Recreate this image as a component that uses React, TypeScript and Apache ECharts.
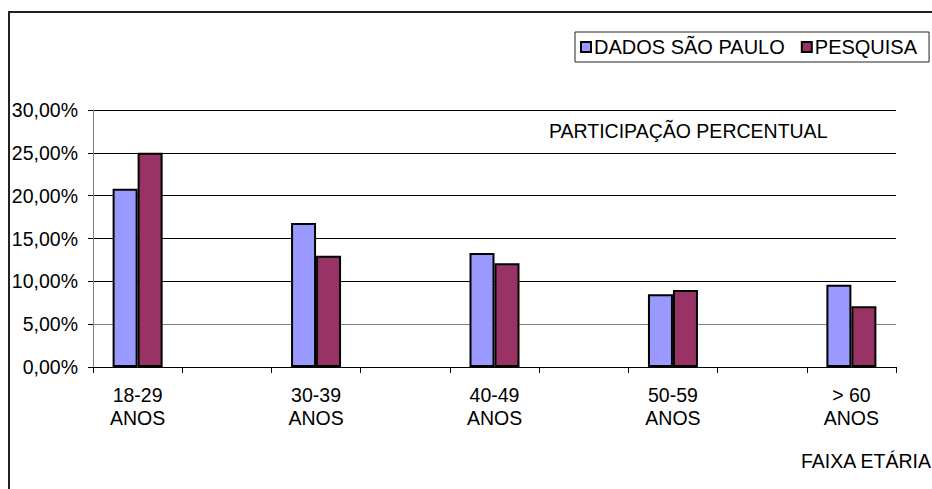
import React, { useEffect, useRef } from "react";
import * as echarts from "echarts";

const categories = [
  "18-29\nANOS",
  "",
  "30-39\nANOS",
  "",
  "40-49\nANOS",
  "",
  "50-59\nANOS",
  "",
  "> 60\nANOS",
];
const dadosSaoPaulo: (number | string)[] = [20.8, "-", 16.8, "-", 13.3, "-", 8.5, "-", 9.6];
const pesquisa: (number | string)[] = [25.0, "-", 13.0, "-", 12.1, "-", 9.0, "-", 7.1];
const seriesNames = ["DADOS SÃO PAULO", "PESQUISA"];
const yMin = 0;
const yMax = 30;
const yStep = 5;

const FONT = "'Liberation Sans', Arial, sans-serif";
const FS = 19.5;

export default function App() {
  const ref = useRef<HTMLDivElement>(null);
  useEffect(() => {
    if (!ref.current) return;
    const chart = echarts.init(ref.current, null, { renderer: "svg" });
    chart.setOption({
      animation: false,
      backgroundColor: "#fff",
      textStyle: { fontFamily: FONT },
      grid: { left: 93, right: 36, top: 110, bottom: 122, containLabel: false },
      legend: {
        data: seriesNames,
        left: 575,
        top: 32,
        padding: [5, 12, 5, 5],
        itemGap: 16,
        itemWidth: 10,
        itemHeight: 10,
        icon: "rect",
        borderColor: "#222",
        borderWidth: 1,
        textStyle: { fontFamily: FONT, fontSize: 20, color: "#000", padding: [0, 0, 0, -2] },
      },
      xAxis: {
        type: "category",
        data: categories,
        axisLine: { lineStyle: { color: "#000", width: 1 } },
        axisTick: { show: true, interval: 0, length: 6, lineStyle: { color: "#000" }, alignWithLabel: false },
        axisLabel: {
          interval: 0,
          margin: 16,
          fontFamily: FONT,
          fontSize: FS,
          color: "#000",
          lineHeight: 23,
        },
        splitLine: { show: false },
      },
      yAxis: {
        type: "value",
        min: yMin,
        max: yMax,
        interval: yStep,
        axisLine: { show: true, lineStyle: { color: "#808080", width: 1 } },
        axisTick: { show: true, length: 5, lineStyle: { color: "#000" } },
        axisLabel: {
          margin: 15,
          fontFamily: FONT,
          fontSize: FS,
          color: "#000",
          formatter: (v: number) => v.toFixed(2).replace(".", ",") + "%",
        },
        splitLine: {
          show: true,
          lineStyle: {
            color: ["#000", "#808080", "#000", "#000", "#000", "#000", "#000"],
            width: 1,
          },
        },
      },
      series: [
        {
          name: seriesNames[0],
          type: "bar",
          data: dadosSaoPaulo,
          barWidth: 25,
          barGap: "0%",
          itemStyle: { color: "#9999FF", borderColor: "#000", borderWidth: 2 },
        },
        {
          name: seriesNames[1],
          type: "bar",
          data: pesquisa,
          barWidth: 25,
          barGap: "0%",
          itemStyle: { color: "#993366", borderColor: "#000", borderWidth: 2 },
        },
      ],
      graphic: [
        {
          type: "rect",
          z: 100,
          shape: { x: 9, y: 12, width: 1000, height: 600 },
          style: { fill: "none", stroke: "#222", lineWidth: 2 },
          silent: true,
        },
        {
          type: "text",
          left: 549,
          top: 121,
          style: { text: "PARTICIPAÇÃO PERCENTUAL", fontFamily: FONT, fontSize: FS, fill: "#000" },
        },
        {
          type: "text",
          left: 801,
          top: 451,
          style: { text: "FAIXA ETÁRIA", fontFamily: FONT, fontSize: FS, fill: "#000" },
        },
      ],
    });
    return () => chart.dispose();
  }, []);
  return (
    <div
      ref={ref}
      style={{ position: "fixed", left: 0, top: 0, width: 932, height: 489 }}
    />
  );
}
